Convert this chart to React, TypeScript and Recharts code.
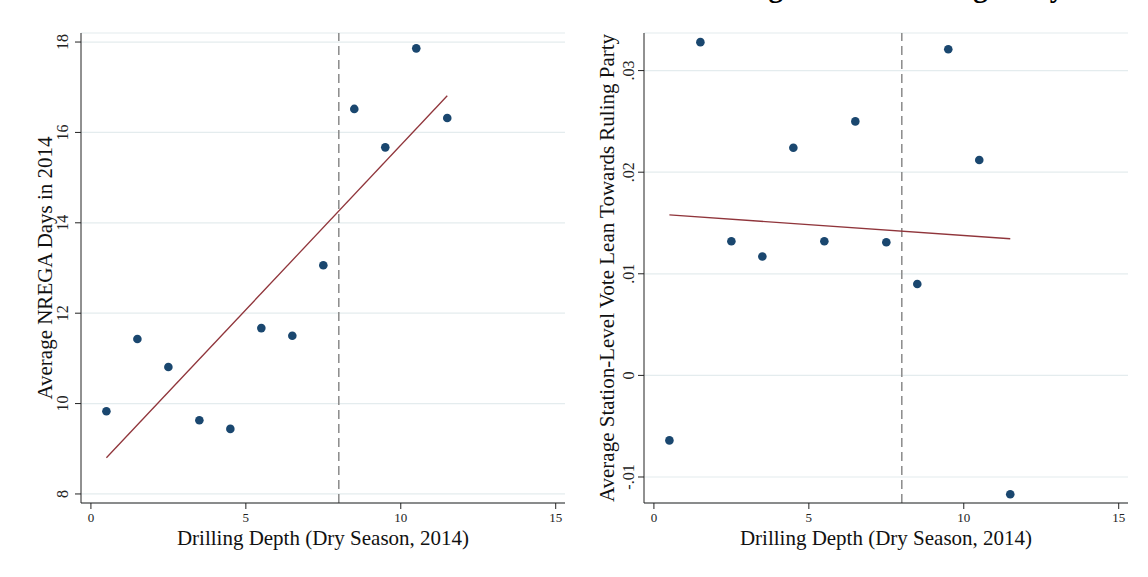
import React from "react";
import {
  ScatterChart,
  Scatter,
  XAxis,
  YAxis,
  CartesianGrid,
  ReferenceLine,
  Label,
} from "recharts";

// ---- data ----
const depths = [0.5, 1.5, 2.5, 3.5, 4.5, 5.5, 6.5, 7.5, 8.5, 9.5, 10.5, 11.5];
const nregaDays = [9.83, 11.43, 10.81, 9.63, 9.44, 11.67, 11.5, 13.06, 16.52, 15.67, 17.86, 16.32];
const voteLean = [-0.0064, 0.0328, 0.0132, 0.0117, 0.0224, 0.0132, 0.025, 0.0131, 0.009, 0.0321, 0.0212, -0.0117];
const fitX = [0.5, 11.5];
const nregaFitY = [8.8, 16.81];
const voteFitY = [0.0158, 0.01345];
const xTicks = [0, 5, 10, 15];
const nregaTicks = [8, 10, 12, 14, 16, 18];
const voteTicks = [-0.01, 0, 0.01, 0.02, 0.03];
const cutoff = 8;
const xTitle = "Drilling Depth (Dry Season, 2014)";
const leftYTitle = "Average NREGA Days in 2014";
const rightYTitle = "Average Station-Level Vote Lean Towards Ruling Party";
const topTitle = "Vote Leaning Towards Ruling Party";

const leftPoints = depths.map((x, i) => ({ x, y: nregaDays[i] }));
const rightPoints = depths.map((x, i) => ({ x, y: voteLean[i] }));
const leftFit = fitX.map((x, i) => ({ x, y: nregaFitY[i] }));
const rightFit = fitX.map((x, i) => ({ x, y: voteFitY[i] }));

const FONT = "'Liberation Serif', 'Times New Roman', serif";
const NAVY = "#1a476f";
const MAROON = "#90353b";
const AXIS = "#222";
const GRID = "#e4ecee";

const fmtVote = (v: number) => {
  if (Math.abs(v) < 1e-9) return "0";
  const s = v.toFixed(2);
  return s.replace("0.", ".");
};

const makeYTick = (fmt: (v: number) => string) => (props: any) => {
  const { x, y, payload } = props;
  return (
    <text
      x={x}
      y={y}
      transform={`rotate(-90, ${x}, ${y})`}
      textAnchor="middle"
      fontSize={16}
      fontFamily={FONT}
      fill={AXIS}
    >
      {fmt(payload.value)}
    </text>
  );
};

const XTick = (props: any) => {
  const { x, y, payload } = props;
  return (
    <text x={x} y={y + 11} textAnchor="middle" fontSize={13} fontFamily={FONT} fill={AXIS}>
      {payload.value}
    </text>
  );
};

const emptyShape = () => <g />;

const dot = (props: any) => {
  const { cx, cy } = props;
  return <circle cx={cx} cy={cy} r={4.3} fill={NAVY} />;
};

function Panel(props: {
  points: { x: number; y: number }[];
  fit: { x: number; y: number }[];
  yDomain: [number, number];
  yTicks: number[];
  yFmt: (v: number) => string;
  yTitle: string;
  yAxisWidth: number;
  rightMargin: number;
  tickMargin: number;
  titleX: number;
}) {
  return (
    <ScatterChart
      width={574}
      height={577}
      margin={{ top: 33, right: props.rightMargin, bottom: 0, left: 0 }}
    >
      <CartesianGrid horizontal vertical={false} stroke={GRID} strokeWidth={1.2} />
      <XAxis
        type="number"
        dataKey="x"
        domain={[-0.32, 15.3]}
        ticks={xTicks}
        allowDataOverflow
        height={74}
        stroke={AXIS}
        tickSize={6}
        tickMargin={2}
        tick={<XTick />}
        tickLine={{ stroke: AXIS }}
      >
        <Label
          content={(lp: any) => {
            const vb = lp.viewBox || {};
            return (
              <text
                x={vb.x + vb.width / 2}
                y={vb.y + 42}
                textAnchor="middle"
                fontSize={21}
                fontFamily={FONT}
                fill="#111"
              >
                {xTitle}
              </text>
            );
          }}
        />
      </XAxis>
      <YAxis
        type="number"
        dataKey="y"
        domain={props.yDomain}
        ticks={props.yTicks}
        allowDataOverflow
        width={props.yAxisWidth}
        stroke={AXIS}
        tickSize={6}
        tickMargin={props.tickMargin}
        tick={makeYTick(props.yFmt)}
        tickLine={{ stroke: AXIS }}
      >
        <Label
          content={(lp: any) => {
            const vb = lp.viewBox || {};
            const cx = vb.x + props.titleX;
            const cy = vb.y + vb.height / 2;
            return (
              <text
                x={cx}
                y={cy}
                transform={`rotate(-90, ${cx}, ${cy})`}
                textAnchor="middle"
                fontSize={21}
                fontFamily={FONT}
                fill="#111"
              >
                {props.yTitle}
              </text>
            );
          }}
        />
      </YAxis>
      <ReferenceLine
        x={cutoff}
        stroke="#8a8a8a"
        strokeWidth={1.5}
        strokeDasharray="9 5"
        ifOverflow="visible"
      />
      <Scatter
        data={props.fit}
        line={{ stroke: MAROON, strokeWidth: 1.3 }}
        shape={emptyShape}
        isAnimationActive={false}
      />
      <Scatter data={props.points} shape={dot} isAnimationActive={false} />
    </ScatterChart>
  );
}

export default function App() {
  return (
    <div
      style={{
        position: "absolute",
        left: 0,
        top: 0,
        width: 1148,
        height: 577,
        background: "#fff",
        overflow: "hidden",
      }}
    >
      <div style={{ position: "absolute", left: 0, top: 0 }}>
        <Panel
          points={leftPoints}
          fit={leftFit}
          yDomain={[7.8, 18.2]}
          yTicks={nregaTicks}
          yFmt={(v) => String(v)}
          yTitle={leftYTitle}
          yAxisWidth={81}
          rightMargin={9}
          tickMargin={7}
          titleX={52}
        />
      </div>
      <div style={{ position: "absolute", left: 574, top: 0 }}>
        <Panel
          points={rightPoints}
          fit={rightFit}
          yDomain={[-0.01256, 0.0337]}
          yTicks={voteTicks}
          yFmt={fmtVote}
          yTitle={rightYTitle}
          yAxisWidth={70}
          rightMargin={20}
          tickMargin={4}
          titleX={40}
        />
      </div>
      <svg
        width={1148}
        height={20}
        style={{ position: "absolute", left: 0, top: 0 }}
      >
        <text x={619} y={-3} fontSize={29} fontWeight="bold" fontFamily={FONT} fill="#000">
          {topTitle}
        </text>
      </svg>
    </div>
  );
}
